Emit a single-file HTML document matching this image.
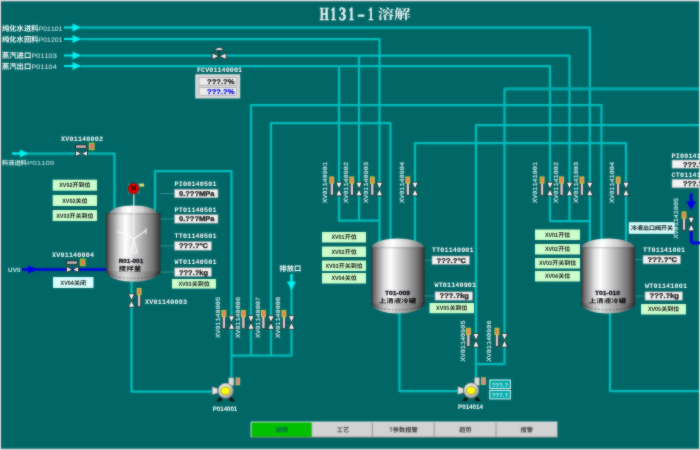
<!DOCTYPE html>
<html lang="zh"><head><meta charset="utf-8"><title>H131-1</title>
<style>
html,body{margin:0;padding:0;background:#DEDCDC;overflow:hidden}
body{width:700px;height:450px;font-family:"Liberation Sans",sans-serif}
svg{display:block}
text{white-space:pre;font-kerning:none;text-rendering:geometricPrecision}
</style></head><body>
<svg width="700" height="450" viewBox="0 0 700 450">
<defs>
<linearGradient id="tg" x1="0" x2="1" y1="0" y2="0"><stop offset="0" stop-color="#303030"/><stop offset="0.06" stop-color="#6c6c6c"/><stop offset="0.24" stop-color="#dadada"/><stop offset="0.36" stop-color="#ffffff"/><stop offset="0.52" stop-color="#d6d6d6"/><stop offset="0.7" stop-color="#a4a4a4"/><stop offset="0.86" stop-color="#767676"/><stop offset="0.95" stop-color="#4a4a4a"/><stop offset="1" stop-color="#2a2a2a"/></linearGradient>
<linearGradient id="td" x1="0" x2="1" y1="0" y2="0"><stop offset="0" stop-color="#7a7a7a"/><stop offset="0.28" stop-color="#eeeeee"/><stop offset="0.4" stop-color="#ffffff"/><stop offset="0.7" stop-color="#cccccc"/><stop offset="1" stop-color="#6c6c6c"/></linearGradient>
<radialGradient id="pg" cx="0.4" cy="0.35" r="0.7"><stop offset="0" stop-color="#fff"/><stop offset="0.6" stop-color="#cfcfcf"/><stop offset="1" stop-color="#8a8a8a"/></radialGradient>
<filter id="soft" x="0" y="0" width="700" height="450" filterUnits="userSpaceOnUse" color-interpolation-filters="sRGB"><feGaussianBlur stdDeviation="1" result="b"/><feComposite in="SourceGraphic" in2="b" operator="arithmetic" k1="0" k2="0.5" k3="0.5" k4="0"/></filter>
</defs>
<g filter="url(#soft)">
<rect x="-10" y="-10" width="720" height="470" fill="#DEDCDC"/>
<rect x="1" y="1.3" width="698" height="447.4" fill="#006666"/>
<polyline points="81,27.5 589.8,27.5 589.8,242" fill="none" stroke="#00BCBC" stroke-width="2.25" stroke-linejoin="round"/>
<polyline points="81,39 379.5,39 379.5,242" fill="none" stroke="#00BCBC" stroke-width="2.25" stroke-linejoin="round"/>
<polyline points="81,55.5 569.5,55.5 569.5,221" fill="none" stroke="#00BCBC" stroke-width="2.25" stroke-linejoin="round"/>
<polyline points="81,66 550,66 550,221 589.8,221" fill="none" stroke="#00BCBC" stroke-width="2.25" stroke-linejoin="round"/>
<polyline points="359,55.5 359,220.5" fill="none" stroke="#00BCBC" stroke-width="2.25" stroke-linejoin="round"/>
<polyline points="339,66 339,220.5 379.5,220.5" fill="none" stroke="#00BCBC" stroke-width="2.25" stroke-linejoin="round"/>
<polyline points="251,356 251,105 601.4,105 601.4,242" fill="none" stroke="#00BCBC" stroke-width="2.25" stroke-linejoin="round"/>
<polyline points="271,356 271,123 390.5,123 390.5,242" fill="none" stroke="#00BCBC" stroke-width="2.25" stroke-linejoin="round"/>
<polyline points="699,88.8 504.5,88.8" fill="none" stroke="#00A6A6" stroke-width="3.3" stroke-linejoin="round"/>
<polyline points="504.5,88.8 504.5,364 476,364" fill="none" stroke="#00BCBC" stroke-width="2.25" stroke-linejoin="round"/>
<polyline points="699,125 476,125 476,379" fill="none" stroke="#00BCBC" stroke-width="2.25" stroke-linejoin="round"/>
<polyline points="415,244 415,143 626,143 626,244" fill="none" stroke="#00BCBC" stroke-width="2.25" stroke-linejoin="round"/>
<polyline points="155,211 155,171 231.5,171 231.5,379" fill="none" stroke="#00BCBC" stroke-width="2.25" stroke-linejoin="round"/>
<polyline points="12,153.5 114.5,153.5 114.5,209" fill="none" stroke="#00BCBC" stroke-width="2.25" stroke-linejoin="round"/>
<polyline points="291.5,274 291.5,355.5 231.5,355.5" fill="none" stroke="#00BCBC" stroke-width="2.25" stroke-linejoin="round"/>
<polyline points="131.5,281 131.5,391.5 213,391.5" fill="none" stroke="#00BCBC" stroke-width="2.25" stroke-linejoin="round"/>
<polyline points="399.5,312 399.5,391 458,391" fill="none" stroke="#00BCBC" stroke-width="2.25" stroke-linejoin="round"/>
<polyline points="610,312 610,391 699,391" fill="none" stroke="#00BCBC" stroke-width="2.25" stroke-linejoin="round"/>
<path d="M64,26.4H72.5V23.5L81.5,27.5L72.5,31.5V28.6H64Z" fill="#00F0F0"/>
<path d="M64,37.9H72.5V35L81.5,39L72.5,43V40.1H64Z" fill="#00F0F0"/>
<path d="M64,54.4H72.5V51.5L81.5,55.5L72.5,59.5V56.6H64Z" fill="#00F0F0"/>
<path d="M64,64.9H72.5V62L81.5,66L72.5,70V67.1H64Z" fill="#00F0F0"/>
<path d="M12,152.4H20V149.5L28.5,153.5L20,157.5V154.6H12Z" fill="#00F0F0"/>
<path d="M290.4,274H292.6V281.5H296L291.5,290.5L287,281.5H290.4Z" fill="#00F0F0"/>
<polyline points="22,269.5 107,269.5" fill="none" stroke="#0000E6" stroke-width="2.6" stroke-linejoin="round"/>
<path d="M28,265.5L38.5,269.5L28,273.5Z" fill="#0000E6"/>
<polyline points="691.2,193.5 691.2,203" fill="none" stroke="#0000E6" stroke-width="2.8" stroke-linejoin="round"/>
<path d="M686.4,201.3H696L691.2,210.6Z" fill="#0000E6"/>
<path d="M691.2,231V240.4Q691.2,242.8 693.6,242.8H701" fill="none" stroke="#0000E6" stroke-width="2.8"/>
<path d="M106,270.3V271.3A27.25,10.5 0 0 0 160.5,271.3V270.3Z" fill="url(#tg)"/>
<path d="M106,270.3V271.3A27.25,10.5 0 0 0 160.5,271.3V270.3Z" fill="#000" opacity="0.12"/>
<rect x="106" y="213" width="54.5" height="58.30000000000001" fill="url(#tg)"/>
<path d="M109.5,213.5A23.75,8 0 0 1 157.0,213.5Z" fill="url(#td)"/>
<path d="M106,213.8H160.5" stroke="#000" stroke-opacity="0.22" stroke-width="1.1"/>
<path d="M107,270.8A26.25,7.5 0 0 0 159.5,270.8" fill="none" stroke="#000" stroke-opacity="0.33" stroke-width="1.1" stroke-dasharray="2 1.6"/>
<path d="M371,302.4V303.4A26.80000000000001,10 0 0 0 424.6,303.4V302.4Z" fill="url(#tg)"/>
<path d="M371,302.4V303.4A26.80000000000001,10 0 0 0 424.6,303.4V302.4Z" fill="#000" opacity="0.12"/>
<rect x="371" y="247" width="53.60000000000002" height="56.39999999999998" fill="url(#tg)"/>
<path d="M371.8,247.5A26.00000000000001,9 0 0 1 423.8,247.5Z" fill="url(#td)"/>
<path d="M371,247.8H424.6" stroke="#000" stroke-opacity="0.22" stroke-width="1.1"/>
<path d="M372,302.9A25.80000000000001,7 0 0 0 423.6,302.9" fill="none" stroke="#000" stroke-opacity="0.33" stroke-width="1.1" stroke-dasharray="2 1.6"/>
<path d="M581,302.4V303.4A27.0,10 0 0 0 635,303.4V302.4Z" fill="url(#tg)"/>
<path d="M581,302.4V303.4A27.0,10 0 0 0 635,303.4V302.4Z" fill="#000" opacity="0.12"/>
<rect x="581" y="247" width="54" height="56.39999999999998" fill="url(#tg)"/>
<path d="M581.8,247.5A26.2,9 0 0 1 634.2,247.5Z" fill="url(#td)"/>
<path d="M581,247.8H635" stroke="#000" stroke-opacity="0.22" stroke-width="1.1"/>
<path d="M582,302.9A26.0,7 0 0 0 634,302.9" fill="none" stroke="#000" stroke-opacity="0.33" stroke-width="1.1" stroke-dasharray="2 1.6"/>
<line x1="133.8" y1="192" x2="133.8" y2="252" stroke="#f0f0f0" stroke-width="1.2"/>
<path d="M117,232l8,1l8.5,6l9,-6l4,-3M133.8,239l-3,14h6.5z M146,228v6" fill="none" stroke="#fff" stroke-width="1.15" opacity="0.85"/>
<rect x="127.6" y="183.6" width="12" height="10" fill="#5a9a9a" opacity="0.55"/>
<circle cx="133.5" cy="188.6" r="5.3" fill="#E80000" stroke="#700" stroke-width="0.6"/>
<path d="M131.6,191v-5l1.9,3.2l1.9,-3.2v5" fill="none" stroke="#300" stroke-width="1.1"/>
<rect x="139.3" y="183.6" width="4.8" height="3" fill="#E4E070"/>
<text transform="translate(118.7 263.2) scale(0.1)" font-family="Liberation Sans" font-size="60" font-weight="bold" fill="#0a0a14" text-anchor="start" textLength="245" lengthAdjust="spacingAndGlyphs" stroke="#0a0a14" stroke-width="3" stroke-linejoin="round">R01-001</text>
<text transform="translate(118.7 270.8) scale(0.1)" font-family="'Liberation Sans','Noto Sans CJK SC',sans-serif" font-size="64" font-weight="bold" fill="#000" text-anchor="start" textLength="224.7" lengthAdjust="spacingAndGlyphs">搅拌釜</text>
<text transform="translate(397.5 295.2) scale(0.1)" font-family="Liberation Sans" font-size="60" font-weight="bold" fill="#0a0a14" text-anchor="middle" textLength="250" lengthAdjust="spacingAndGlyphs" stroke="#0a0a14" stroke-width="3" stroke-linejoin="round">T01-009</text>
<text transform="translate(378.8 302.66) scale(0.1)" font-family="'Liberation Sans','Noto Sans CJK SC',sans-serif" font-size="60" font-weight="bold" fill="#000" text-anchor="start" textLength="375" lengthAdjust="spacingAndGlyphs">上清液冷罐</text>
<text transform="translate(607.5 295.2) scale(0.1)" font-family="Liberation Sans" font-size="60" font-weight="bold" fill="#0a0a14" text-anchor="middle" textLength="250" lengthAdjust="spacingAndGlyphs" stroke="#0a0a14" stroke-width="3" stroke-linejoin="round">T01-010</text>
<text transform="translate(588.8 302.66) scale(0.1)" font-family="'Liberation Sans','Noto Sans CJK SC',sans-serif" font-size="60" font-weight="bold" fill="#000" text-anchor="start" textLength="375" lengthAdjust="spacingAndGlyphs">上清液冷罐</text>
<path d="M335.9,182.25H342.1L339,189Z M335.9,195.75H342.1L339,189Z" fill="#fff" stroke="#1c1c1c" stroke-width="0.8"/>
<line x1="333.8" y1="189" x2="339" y2="189" stroke="#333" stroke-width="0.6"/>
<rect x="330.2" y="182.75" width="3.2" height="12.5" fill="#DCD0D4" stroke="#2a2a2a" stroke-width="0.8"/>
<rect x="329.90000000000003" y="176.95" width="3.8" height="6.2" fill="#F28050" stroke="#C4D040" stroke-width="1.0"/>
<path d="M355.9,182.25H362.1L359,189Z M355.9,195.75H362.1L359,189Z" fill="#fff" stroke="#1c1c1c" stroke-width="0.8"/>
<line x1="353.8" y1="189" x2="359" y2="189" stroke="#333" stroke-width="0.6"/>
<rect x="350.2" y="182.75" width="3.2" height="12.5" fill="#DCD0D4" stroke="#2a2a2a" stroke-width="0.8"/>
<rect x="349.90000000000003" y="176.95" width="3.8" height="6.2" fill="#F28050" stroke="#C4D040" stroke-width="1.0"/>
<path d="M376.4,182.25H382.6L379.5,189Z M376.4,195.75H382.6L379.5,189Z" fill="#fff" stroke="#1c1c1c" stroke-width="0.8"/>
<line x1="374.3" y1="189" x2="379.5" y2="189" stroke="#333" stroke-width="0.6"/>
<rect x="370.7" y="182.75" width="3.2" height="12.5" fill="#DCD0D4" stroke="#2a2a2a" stroke-width="0.8"/>
<rect x="370.40000000000003" y="176.95" width="3.8" height="6.2" fill="#F28050" stroke="#C4D040" stroke-width="1.0"/>
<path d="M411.9,182.25H418.1L415,189Z M411.9,195.75H418.1L415,189Z" fill="#fff" stroke="#1c1c1c" stroke-width="0.8"/>
<line x1="409.8" y1="189" x2="415" y2="189" stroke="#333" stroke-width="0.6"/>
<rect x="406.2" y="182.75" width="3.2" height="12.5" fill="#DCD0D4" stroke="#2a2a2a" stroke-width="0.8"/>
<rect x="405.90000000000003" y="176.95" width="3.8" height="6.2" fill="#F28050" stroke="#C4D040" stroke-width="1.0"/>
<path d="M546.9,182.25H553.1L550,189Z M546.9,195.75H553.1L550,189Z" fill="#fff" stroke="#1c1c1c" stroke-width="0.8"/>
<line x1="544.1" y1="189" x2="550" y2="189" stroke="#333" stroke-width="0.6"/>
<rect x="540.5" y="182.75" width="3.2" height="12.5" fill="#DCD0D4" stroke="#2a2a2a" stroke-width="0.8"/>
<rect x="540.2" y="176.95" width="3.8" height="6.2" fill="#F28050" stroke="#C4D040" stroke-width="1.0"/>
<path d="M566.4,182.25H572.6L569.5,189Z M566.4,195.75H572.6L569.5,189Z" fill="#fff" stroke="#1c1c1c" stroke-width="0.8"/>
<line x1="563.6" y1="189" x2="569.5" y2="189" stroke="#333" stroke-width="0.6"/>
<rect x="560.0" y="182.75" width="3.2" height="12.5" fill="#DCD0D4" stroke="#2a2a2a" stroke-width="0.8"/>
<rect x="559.7" y="176.95" width="3.8" height="6.2" fill="#F28050" stroke="#C4D040" stroke-width="1.0"/>
<path d="M586.6999999999999,182.25H592.9L589.8,189Z M586.6999999999999,195.75H592.9L589.8,189Z" fill="#fff" stroke="#1c1c1c" stroke-width="0.8"/>
<line x1="583.9" y1="189" x2="589.8" y2="189" stroke="#333" stroke-width="0.6"/>
<rect x="580.3" y="182.75" width="3.2" height="12.5" fill="#DCD0D4" stroke="#2a2a2a" stroke-width="0.8"/>
<rect x="580.0" y="176.95" width="3.8" height="6.2" fill="#F28050" stroke="#C4D040" stroke-width="1.0"/>
<path d="M622.9,182.25H629.1L626,189Z M622.9,195.75H629.1L626,189Z" fill="#fff" stroke="#1c1c1c" stroke-width="0.8"/>
<line x1="620.1" y1="189" x2="626" y2="189" stroke="#333" stroke-width="0.6"/>
<rect x="616.5" y="182.75" width="3.2" height="12.5" fill="#DCD0D4" stroke="#2a2a2a" stroke-width="0.8"/>
<rect x="616.2" y="176.95" width="3.8" height="6.2" fill="#F28050" stroke="#C4D040" stroke-width="1.0"/>
<path d="M228.4,315.75H234.6L231.5,322.5Z M228.4,329.25H234.6L231.5,322.5Z" fill="#fff" stroke="#1c1c1c" stroke-width="0.8"/>
<line x1="225.9" y1="322.5" x2="231.5" y2="322.5" stroke="#333" stroke-width="0.6"/>
<rect x="222.3" y="316.25" width="3.2" height="12.5" fill="#DCD0D4" stroke="#2a2a2a" stroke-width="0.8"/>
<rect x="222.0" y="310.45" width="3.8" height="6.2" fill="#F28050" stroke="#C4D040" stroke-width="1.0"/>
<path d="M247.9,315.75H254.1L251,322.5Z M247.9,329.25H254.1L251,322.5Z" fill="#fff" stroke="#1c1c1c" stroke-width="0.8"/>
<line x1="245.4" y1="322.5" x2="251" y2="322.5" stroke="#333" stroke-width="0.6"/>
<rect x="241.8" y="316.25" width="3.2" height="12.5" fill="#DCD0D4" stroke="#2a2a2a" stroke-width="0.8"/>
<rect x="241.5" y="310.45" width="3.8" height="6.2" fill="#F28050" stroke="#C4D040" stroke-width="1.0"/>
<path d="M267.9,315.75H274.1L271,322.5Z M267.9,329.25H274.1L271,322.5Z" fill="#fff" stroke="#1c1c1c" stroke-width="0.8"/>
<line x1="265.4" y1="322.5" x2="271" y2="322.5" stroke="#333" stroke-width="0.6"/>
<rect x="261.79999999999995" y="316.25" width="3.2" height="12.5" fill="#DCD0D4" stroke="#2a2a2a" stroke-width="0.8"/>
<rect x="261.5" y="310.45" width="3.8" height="6.2" fill="#F28050" stroke="#C4D040" stroke-width="1.0"/>
<path d="M288.4,315.75H294.6L291.5,322.5Z M288.4,329.25H294.6L291.5,322.5Z" fill="#fff" stroke="#1c1c1c" stroke-width="0.8"/>
<line x1="285.9" y1="322.5" x2="291.5" y2="322.5" stroke="#333" stroke-width="0.6"/>
<rect x="282.29999999999995" y="316.25" width="3.2" height="12.5" fill="#DCD0D4" stroke="#2a2a2a" stroke-width="0.8"/>
<rect x="282.0" y="310.45" width="3.8" height="6.2" fill="#F28050" stroke="#C4D040" stroke-width="1.0"/>
<path d="M472.9,333.55H479.1L476,340.3Z M472.9,347.05H479.1L476,340.3Z" fill="#fff" stroke="#1c1c1c" stroke-width="0.8"/>
<line x1="470.4" y1="340.3" x2="476" y2="340.3" stroke="#333" stroke-width="0.6"/>
<rect x="466.79999999999995" y="334.05" width="3.2" height="12.5" fill="#DCD0D4" stroke="#2a2a2a" stroke-width="0.8"/>
<rect x="466.5" y="328.25" width="3.8" height="6.2" fill="#F28050" stroke="#C4D040" stroke-width="1.0"/>
<path d="M501.4,333.55H507.6L504.5,340.3Z M501.4,347.05H507.6L504.5,340.3Z" fill="#fff" stroke="#1c1c1c" stroke-width="0.8"/>
<line x1="498.9" y1="340.3" x2="504.5" y2="340.3" stroke="#333" stroke-width="0.6"/>
<rect x="495.29999999999995" y="334.05" width="3.2" height="12.5" fill="#DCD0D4" stroke="#2a2a2a" stroke-width="0.8"/>
<rect x="495.0" y="328.25" width="3.8" height="6.2" fill="#F28050" stroke="#C4D040" stroke-width="1.0"/>
<path d="M128.4,293.75H134.6L131.5,300.5Z M128.4,307.25H134.6L131.5,300.5Z" fill="#fff" stroke="#1c1c1c" stroke-width="0.8"/>
<line x1="131.5" y1="300.5" x2="137.1" y2="300.5" stroke="#333" stroke-width="0.6"/>
<rect x="137.5" y="294.25" width="3.2" height="12.5" fill="#DCD0D4" stroke="#2a2a2a" stroke-width="0.8"/>
<rect x="137.2" y="288.45" width="3.8" height="6.2" fill="#F28050" stroke="#C4D040" stroke-width="1.0"/>
<path d="M688.1,217.25H694.3000000000001L691.2,224Z M688.1,230.75H694.3000000000001L691.2,224Z" fill="#fff" stroke="#1c1c1c" stroke-width="0.8"/>
<line x1="686.0" y1="224" x2="691.2" y2="224" stroke="#333" stroke-width="0.6"/>
<rect x="682.4" y="217.75" width="3.2" height="12.5" fill="#DCD0D4" stroke="#2a2a2a" stroke-width="0.8"/>
<rect x="682.1" y="211.95" width="3.8" height="6.2" fill="#F28050" stroke="#C4D040" stroke-width="1.0"/>
<path d="M75.5,150.5V156.5L81.5,153.5Z M87.5,150.5V156.5L81.5,153.5Z" fill="#f4f4f4" stroke="#222" stroke-width="0.9"/>
<rect x="75.5" y="144.9" width="11" height="3.4" fill="#C8B8BE" stroke="#222" stroke-width="0.9"/>
<rect x="89.5" y="143.3" width="4.4" height="6.2" fill="#F06868" stroke="#A8C828" stroke-width="1.3"/>
<path d="M66.5,266.5V272.5L72.5,269.5Z M78.5,266.5V272.5L72.5,269.5Z" fill="#f4f4f4" stroke="#222" stroke-width="0.9"/>
<rect x="66.5" y="260.9" width="11" height="3.4" fill="#C8B8BE" stroke="#222" stroke-width="0.9"/>
<rect x="80.5" y="259.3" width="4.4" height="6.2" fill="#F06868" stroke="#A8C828" stroke-width="1.3"/>
<path d="M212.2,52.95V59.45L219.2,56.2Z M226.2,52.95V59.45L219.2,56.2Z" fill="#f4f4f4" stroke="#222" stroke-width="0.9"/>
<line x1="219.2" y1="49.5" x2="219.2" y2="56" stroke="#222" stroke-width="1.4"/>
<path d="M214.3,50.3Q219.2,44.5 224.1,50.3Z" fill="#f4f4f4" stroke="#222" stroke-width="0.7"/>
<path d="M219.7,397.3l-3.5,4h5l1.5,-3zM231.7,397.3l3.5,4h-5l-1.5,-3z" fill="#1a1410"/>
<path d="M212.2,386.8l5.5,1.8v4.4l-5.5,1.8z" fill="#e4e4e4" stroke="#777" stroke-width="0.5"/>
<rect x="228.7" y="377.8" width="5.2" height="8" fill="#dcdcdc" stroke="#777" stroke-width="0.5"/>
<circle cx="225.7" cy="390.8" r="7.7" fill="url(#pg)" stroke="#666" stroke-width="0.6"/>
<ellipse cx="225.39999999999998" cy="390.8" rx="4.7" ry="4" fill="#FFFF00" stroke="#8c8c30" stroke-width="0.8"/>
<rect x="236.1" y="378.0" width="3.6" height="6.8" fill="#F08080" stroke="#A8D060" stroke-width="0.9"/>
<path d="M465.3,397.0l-3.5,4h5l1.5,-3zM477.3,397.0l3.5,4h-5l-1.5,-3z" fill="#1a1410"/>
<path d="M457.8,386.5l5.5,1.8v4.4l-5.5,1.8z" fill="#e4e4e4" stroke="#777" stroke-width="0.5"/>
<rect x="474.3" y="377.5" width="5.2" height="8" fill="#dcdcdc" stroke="#777" stroke-width="0.5"/>
<circle cx="471.3" cy="390.5" r="7.7" fill="url(#pg)" stroke="#666" stroke-width="0.6"/>
<ellipse cx="471.0" cy="390.5" rx="4.7" ry="4" fill="#FFFF00" stroke="#8c8c30" stroke-width="0.8"/>
<rect x="481.7" y="377.7" width="3.6" height="6.8" fill="#F08080" stroke="#A8D060" stroke-width="0.9"/>
<text transform="translate(225 411.3) scale(0.1)" font-family="Liberation Sans" font-size="64" font-weight="bold" fill="#FFFFFE" text-anchor="middle" textLength="245" lengthAdjust="spacingAndGlyphs">P014001</text>
<text transform="translate(470.5 409.3) scale(0.1)" font-family="Liberation Sans" font-size="64" font-weight="bold" fill="#FFFFFE" text-anchor="middle" textLength="250" lengthAdjust="spacingAndGlyphs">P014014</text>
<rect x="489.8" y="380" width="20.6" height="8.5" fill="#00A8A8" stroke="#C8F4F4" stroke-width="1.1"/>
<text transform="translate(500 386.6) scale(0.1)" font-family="Liberation Sans" font-size="56" font-weight="bold" fill="#D4FAFA" text-anchor="middle" textLength="160" lengthAdjust="spacingAndGlyphs">???.?</text>
<rect x="489.8" y="390.4" width="20.6" height="8.5" fill="#00A8A8" stroke="#C8F4F4" stroke-width="1.1"/>
<text transform="translate(500 397.0) scale(0.1)" font-family="Liberation Sans" font-size="56" font-weight="bold" fill="#D4FAFA" text-anchor="middle" textLength="160" lengthAdjust="spacingAndGlyphs">???.?</text>
<text transform="translate(327.3 203) rotate(-90) scale(0.1)" font-family="Liberation Mono" font-size="63" font-weight="normal" fill="#E4F6F6" text-anchor="start" textLength="410" lengthAdjust="spacingAndGlyphs" stroke="#E4F6F6" stroke-width="1.2" stroke-linejoin="round">XV01140901</text>
<text transform="translate(348 203) rotate(-90) scale(0.1)" font-family="Liberation Mono" font-size="63" font-weight="normal" fill="#E4F6F6" text-anchor="start" textLength="410" lengthAdjust="spacingAndGlyphs" stroke="#E4F6F6" stroke-width="1.2" stroke-linejoin="round">XV01140902</text>
<text transform="translate(367.5 203) rotate(-90) scale(0.1)" font-family="Liberation Mono" font-size="63" font-weight="normal" fill="#E4F6F6" text-anchor="start" textLength="410" lengthAdjust="spacingAndGlyphs" stroke="#E4F6F6" stroke-width="1.2" stroke-linejoin="round">XV01140903</text>
<text transform="translate(404 203) rotate(-90) scale(0.1)" font-family="Liberation Mono" font-size="63" font-weight="normal" fill="#E4F6F6" text-anchor="start" textLength="410" lengthAdjust="spacingAndGlyphs" stroke="#E4F6F6" stroke-width="1.2" stroke-linejoin="round">XV01140904</text>
<text transform="translate(537.4 203) rotate(-90) scale(0.1)" font-family="Liberation Mono" font-size="63" font-weight="normal" fill="#E4F6F6" text-anchor="start" textLength="410" lengthAdjust="spacingAndGlyphs" stroke="#E4F6F6" stroke-width="1.2" stroke-linejoin="round">XV01141001</text>
<text transform="translate(557.5 203) rotate(-90) scale(0.1)" font-family="Liberation Mono" font-size="63" font-weight="normal" fill="#E4F6F6" text-anchor="start" textLength="410" lengthAdjust="spacingAndGlyphs" stroke="#E4F6F6" stroke-width="1.2" stroke-linejoin="round">XV01141002</text>
<text transform="translate(577.5 203) rotate(-90) scale(0.1)" font-family="Liberation Mono" font-size="63" font-weight="normal" fill="#E4F6F6" text-anchor="start" textLength="410" lengthAdjust="spacingAndGlyphs" stroke="#E4F6F6" stroke-width="1.2" stroke-linejoin="round">XV01141003</text>
<text transform="translate(614 203) rotate(-90) scale(0.1)" font-family="Liberation Mono" font-size="63" font-weight="normal" fill="#E4F6F6" text-anchor="start" textLength="410" lengthAdjust="spacingAndGlyphs" stroke="#E4F6F6" stroke-width="1.2" stroke-linejoin="round">XV01141004</text>
<text transform="translate(220.3 338) rotate(-90) scale(0.1)" font-family="Liberation Mono" font-size="63" font-weight="normal" fill="#E4F6F6" text-anchor="start" textLength="410" lengthAdjust="spacingAndGlyphs" stroke="#E4F6F6" stroke-width="1.2" stroke-linejoin="round">XV01140005</text>
<text transform="translate(240 338) rotate(-90) scale(0.1)" font-family="Liberation Mono" font-size="63" font-weight="normal" fill="#E4F6F6" text-anchor="start" textLength="410" lengthAdjust="spacingAndGlyphs" stroke="#E4F6F6" stroke-width="1.2" stroke-linejoin="round">XV01140006</text>
<text transform="translate(260 338) rotate(-90) scale(0.1)" font-family="Liberation Mono" font-size="63" font-weight="normal" fill="#E4F6F6" text-anchor="start" textLength="410" lengthAdjust="spacingAndGlyphs" stroke="#E4F6F6" stroke-width="1.2" stroke-linejoin="round">XV01140007</text>
<text transform="translate(280.3 338) rotate(-90) scale(0.1)" font-family="Liberation Mono" font-size="63" font-weight="normal" fill="#E4F6F6" text-anchor="start" textLength="410" lengthAdjust="spacingAndGlyphs" stroke="#E4F6F6" stroke-width="1.2" stroke-linejoin="round">XV01140008</text>
<text transform="translate(464.8 361.5) rotate(-90) scale(0.1)" font-family="Liberation Mono" font-size="63" font-weight="normal" fill="#E4F6F6" text-anchor="start" textLength="410" lengthAdjust="spacingAndGlyphs" stroke="#E4F6F6" stroke-width="1.2" stroke-linejoin="round">XV01140905</text>
<text transform="translate(491 361.5) rotate(-90) scale(0.1)" font-family="Liberation Mono" font-size="63" font-weight="normal" fill="#E4F6F6" text-anchor="start" textLength="410" lengthAdjust="spacingAndGlyphs" stroke="#E4F6F6" stroke-width="1.2" stroke-linejoin="round">XV01140906</text>
<text transform="translate(678.2 238.5) rotate(-90) scale(0.1)" font-family="Liberation Mono" font-size="63" font-weight="normal" fill="#E4F6F6" text-anchor="start" textLength="405" lengthAdjust="spacingAndGlyphs" stroke="#E4F6F6" stroke-width="1.2" stroke-linejoin="round">XV01141005</text>
<text transform="translate(2 30.58) scale(0.1)" font-family="'Liberation Sans','Noto Sans CJK SC',sans-serif" font-size="73" font-weight="bold" fill="#F4FCFC" text-anchor="start" textLength="365" lengthAdjust="spacingAndGlyphs">纯化水进料</text>
<text transform="translate(38.7 30.578) scale(0.1)" font-family="Liberation Sans" font-size="64" font-weight="normal" fill="#DCF0F0" text-anchor="start" textLength="236" lengthAdjust="spacingAndGlyphs">P01101</text>
<text transform="translate(2 42.08) scale(0.1)" font-family="'Liberation Sans','Noto Sans CJK SC',sans-serif" font-size="73" font-weight="bold" fill="#F4FCFC" text-anchor="start" textLength="365" lengthAdjust="spacingAndGlyphs">纯化水回料</text>
<text transform="translate(38.7 42.077999999999996) scale(0.1)" font-family="Liberation Sans" font-size="64" font-weight="normal" fill="#DCF0F0" text-anchor="start" textLength="236" lengthAdjust="spacingAndGlyphs">P01201</text>
<text transform="translate(2 58.38) scale(0.1)" font-family="'Liberation Sans','Noto Sans CJK SC',sans-serif" font-size="73" font-weight="bold" fill="#F4FCFC" text-anchor="start" textLength="292" lengthAdjust="spacingAndGlyphs">蒸汽进口</text>
<text transform="translate(31.4 58.378) scale(0.1)" font-family="Liberation Sans" font-size="64" font-weight="normal" fill="#DCF0F0" text-anchor="start" textLength="254" lengthAdjust="spacingAndGlyphs">P01103</text>
<text transform="translate(2 69.08) scale(0.1)" font-family="'Liberation Sans','Noto Sans CJK SC',sans-serif" font-size="73" font-weight="bold" fill="#F4FCFC" text-anchor="start" textLength="292" lengthAdjust="spacingAndGlyphs">蒸汽出口</text>
<text transform="translate(31.4 69.078) scale(0.1)" font-family="Liberation Sans" font-size="64" font-weight="normal" fill="#DCF0F0" text-anchor="start" textLength="254" lengthAdjust="spacingAndGlyphs">P01104</text>
<text transform="translate(2 164.83) scale(0.1)" font-family="'Liberation Sans','Noto Sans CJK SC',sans-serif" font-size="62" font-weight="bold" fill="#D8EEEE" text-anchor="start" textLength="248" lengthAdjust="spacingAndGlyphs">料液进料</text>
<text transform="translate(27.0 164.832) scale(0.1)" font-family="Liberation Sans" font-size="60" font-weight="normal" fill="#CCE8E8" text-anchor="start" textLength="272" lengthAdjust="spacingAndGlyphs">P01109</text>
<text transform="translate(8 272.2) scale(0.1)" font-family="Liberation Sans" font-size="62" font-weight="bold" fill="#D2EAEA" text-anchor="start" textLength="125" lengthAdjust="spacingAndGlyphs">UV0</text>
<text transform="translate(279.5 270.69) scale(0.1)" font-family="'Liberation Sans','Noto Sans CJK SC',sans-serif" font-size="72" font-weight="bold" fill="#fff" text-anchor="start" textLength="216" lengthAdjust="spacingAndGlyphs">排放口</text>
<text transform="translate(61 141.3) scale(0.1)" font-family="Liberation Mono" font-size="67" font-weight="bold" fill="#FFFFFE" text-anchor="start" textLength="420" lengthAdjust="spacing">XV01140002</text>
<text transform="translate(52 256.8) scale(0.1)" font-family="Liberation Mono" font-size="67" font-weight="bold" fill="#FFFFFE" text-anchor="start" textLength="420" lengthAdjust="spacing">XV01140004</text>
<text transform="translate(145 303.6) scale(0.1)" font-family="Liberation Mono" font-size="67" font-weight="bold" fill="#FFFFFE" text-anchor="start" textLength="420" lengthAdjust="spacing">XV01140003</text>
<text transform="translate(197 72.3) scale(0.1)" font-family="Liberation Mono" font-size="67" font-weight="bold" fill="#FFFFFE" text-anchor="start" textLength="450" lengthAdjust="spacing">FCV01140001</text>
<text transform="translate(174.5 186) scale(0.1)" font-family="Liberation Mono" font-size="67" font-weight="bold" fill="#FFFFFE" text-anchor="start" textLength="420" lengthAdjust="spacing">PI00140501</text>
<rect x="174.5" y="189.2" width="43.5" height="8.6" fill="#f2f2f2" stroke="#8a9a9a" stroke-width="0.6"/>
<text transform="translate(196.75 195.99999999999997) scale(0.1)" font-family="Liberation Sans" font-size="70" font-weight="bold" fill="#111" text-anchor="middle" textLength="355" lengthAdjust="spacingAndGlyphs" stroke="#111" stroke-width="3" stroke-linejoin="round">0.???MPa</text>
<line x1="160.5" y1="193.5" x2="174.5" y2="193.5" stroke="#4FA0A0" stroke-width="0.7"/>
<text transform="translate(174.5 211.5) scale(0.1)" font-family="Liberation Mono" font-size="67" font-weight="bold" fill="#FFFFFE" text-anchor="start" textLength="420" lengthAdjust="spacing">PT01140501</text>
<rect x="174.5" y="214.6" width="43.5" height="8.6" fill="#f2f2f2" stroke="#8a9a9a" stroke-width="0.6"/>
<text transform="translate(196.75 221.39999999999998) scale(0.1)" font-family="Liberation Sans" font-size="70" font-weight="bold" fill="#111" text-anchor="middle" textLength="355" lengthAdjust="spacingAndGlyphs" stroke="#111" stroke-width="3" stroke-linejoin="round">0.???MPa</text>
<line x1="160.5" y1="218.9" x2="174.5" y2="218.9" stroke="#4FA0A0" stroke-width="0.7"/>
<text transform="translate(174.5 237.7) scale(0.1)" font-family="Liberation Mono" font-size="67" font-weight="bold" fill="#FFFFFE" text-anchor="start" textLength="420" lengthAdjust="spacing">TT01140501</text>
<rect x="174.5" y="241.6" width="37" height="8.6" fill="#f2f2f2" stroke="#8a9a9a" stroke-width="0.6"/>
<text transform="translate(193.5 248.39999999999998) scale(0.1)" font-family="Liberation Sans" font-size="70" font-weight="bold" fill="#111" text-anchor="middle" textLength="290" lengthAdjust="spacingAndGlyphs" stroke="#111" stroke-width="3" stroke-linejoin="round">???.?°C</text>
<line x1="160.5" y1="245.9" x2="174.5" y2="245.9" stroke="#4FA0A0" stroke-width="0.7"/>
<text transform="translate(174.5 263.7) scale(0.1)" font-family="Liberation Mono" font-size="67" font-weight="bold" fill="#FFFFFE" text-anchor="start" textLength="420" lengthAdjust="spacing">WT01140501</text>
<rect x="174.5" y="267.8" width="37" height="8.6" fill="#f2f2f2" stroke="#8a9a9a" stroke-width="0.6"/>
<text transform="translate(193.5 274.6) scale(0.1)" font-family="Liberation Sans" font-size="70" font-weight="bold" fill="#111" text-anchor="middle" textLength="290" lengthAdjust="spacingAndGlyphs" stroke="#111" stroke-width="3" stroke-linejoin="round">???.?kg</text>
<line x1="160.5" y1="272.1" x2="174.5" y2="272.1" stroke="#4FA0A0" stroke-width="0.7"/>
<rect x="172" y="279" width="44" height="9.6" fill="#CCFFCC"/>
<text transform="translate(178.39999999999998 285.76000000000005) scale(0.1)" font-family="Liberation Sans" font-size="63" font-weight="bold" fill="#111" text-anchor="start" textLength="132" lengthAdjust="spacingAndGlyphs">XV03</text>
<text transform="translate(191.8 285.76) scale(0.1)" font-family="'Liberation Sans','Noto Sans CJK SC',sans-serif" font-size="60" font-weight="bold" fill="#111" text-anchor="start" textLength="180" lengthAdjust="spacingAndGlyphs">关到位</text>
<rect x="195.8" y="74.8" width="44" height="23.2" fill="#D6D6D6" stroke="#f0f0f0" stroke-width="0.8"/>
<rect x="199" y="77.6" width="37.5" height="7.6" fill="#ECECEC" stroke="#9a9a9a" stroke-width="0.6"/>
<text transform="translate(234.5 83.89999999999999) scale(0.1)" font-family="Liberation Sans" font-size="69" font-weight="bold" fill="#222" text-anchor="end" textLength="275" lengthAdjust="spacingAndGlyphs" stroke="#222" stroke-width="3" stroke-linejoin="round">???.?%</text>
<rect x="199" y="87.6" width="37.5" height="7.6" fill="#ECECEC" stroke="#9a9a9a" stroke-width="0.6"/>
<text transform="translate(234.5 93.89999999999999) scale(0.1)" font-family="Liberation Sans" font-size="69" font-weight="bold" fill="#1010E0" text-anchor="end" textLength="275" lengthAdjust="spacingAndGlyphs" stroke="#1010E0" stroke-width="3" stroke-linejoin="round">???.?%</text>
<rect x="52.7" y="179.7" width="44.3" height="11" fill="#CCFFCC"/>
<text transform="translate(59.2 187.26) scale(0.1)" font-family="Liberation Sans" font-size="63" font-weight="bold" fill="#111" text-anchor="start" textLength="132" lengthAdjust="spacingAndGlyphs">XV02</text>
<text transform="translate(72.6 187.26) scale(0.1)" font-family="'Liberation Sans','Noto Sans CJK SC',sans-serif" font-size="60" font-weight="bold" fill="#111" text-anchor="start" textLength="180" lengthAdjust="spacingAndGlyphs">开到位</text>
<rect x="52.7" y="195" width="44.3" height="11" fill="#CCFFCC"/>
<text transform="translate(62.2 202.56) scale(0.1)" font-family="Liberation Sans" font-size="63" font-weight="bold" fill="#111" text-anchor="start" textLength="132" lengthAdjust="spacingAndGlyphs">XV02</text>
<text transform="translate(75.6 202.56) scale(0.1)" font-family="'Liberation Sans','Noto Sans CJK SC',sans-serif" font-size="60" font-weight="bold" fill="#111" text-anchor="start" textLength="120" lengthAdjust="spacingAndGlyphs">关位</text>
<rect x="52.7" y="210" width="44.3" height="11" fill="#CCFFCC"/>
<text transform="translate(56.2 217.56) scale(0.1)" font-family="Liberation Sans" font-size="63" font-weight="bold" fill="#111" text-anchor="start" textLength="132" lengthAdjust="spacingAndGlyphs">XV03</text>
<text transform="translate(69.6 217.56) scale(0.1)" font-family="'Liberation Sans','Noto Sans CJK SC',sans-serif" font-size="60" font-weight="bold" fill="#111" text-anchor="start" textLength="240" lengthAdjust="spacingAndGlyphs">开关到位</text>
<rect x="53" y="277" width="40.5" height="11" fill="#D8FFFF"/>
<text transform="translate(60.60000000000001 284.56) scale(0.1)" font-family="Liberation Sans" font-size="63" font-weight="bold" fill="#111" text-anchor="start" textLength="132" lengthAdjust="spacingAndGlyphs">XV04</text>
<text transform="translate(74 284.56) scale(0.1)" font-family="'Liberation Sans','Noto Sans CJK SC',sans-serif" font-size="60" font-weight="bold" fill="#111" text-anchor="start" textLength="120" lengthAdjust="spacingAndGlyphs">关闭</text>
<rect x="322" y="232" width="44" height="10.5" fill="#CCFFCC"/>
<text transform="translate(331.4 239.35999999999999) scale(0.1)" font-family="Liberation Sans" font-size="63" font-weight="bold" fill="#111" text-anchor="start" textLength="132" lengthAdjust="spacingAndGlyphs">XV01</text>
<text transform="translate(344.8 239.36) scale(0.1)" font-family="'Liberation Sans','Noto Sans CJK SC',sans-serif" font-size="60" font-weight="bold" fill="#111" text-anchor="start" textLength="120" lengthAdjust="spacingAndGlyphs">开位</text>
<rect x="322" y="246.5" width="44" height="10.5" fill="#CCFFCC"/>
<text transform="translate(331.4 253.85999999999999) scale(0.1)" font-family="Liberation Sans" font-size="63" font-weight="bold" fill="#111" text-anchor="start" textLength="132" lengthAdjust="spacingAndGlyphs">XV02</text>
<text transform="translate(344.8 253.86) scale(0.1)" font-family="'Liberation Sans','Noto Sans CJK SC',sans-serif" font-size="60" font-weight="bold" fill="#111" text-anchor="start" textLength="120" lengthAdjust="spacingAndGlyphs">开位</text>
<rect x="322" y="260.5" width="44" height="10.5" fill="#CCFFCC"/>
<text transform="translate(325.4 267.86) scale(0.1)" font-family="Liberation Sans" font-size="63" font-weight="bold" fill="#111" text-anchor="start" textLength="132" lengthAdjust="spacingAndGlyphs">XV03</text>
<text transform="translate(338.8 267.86) scale(0.1)" font-family="'Liberation Sans','Noto Sans CJK SC',sans-serif" font-size="60" font-weight="bold" fill="#111" text-anchor="start" textLength="240" lengthAdjust="spacingAndGlyphs">开关到位</text>
<rect x="322" y="273" width="44" height="10.5" fill="#CCFFCC"/>
<text transform="translate(331.4 280.36) scale(0.1)" font-family="Liberation Sans" font-size="63" font-weight="bold" fill="#111" text-anchor="start" textLength="132" lengthAdjust="spacingAndGlyphs">XV04</text>
<text transform="translate(344.8 280.36) scale(0.1)" font-family="'Liberation Sans','Noto Sans CJK SC',sans-serif" font-size="60" font-weight="bold" fill="#111" text-anchor="start" textLength="120" lengthAdjust="spacingAndGlyphs">关位</text>
<text transform="translate(432 252.3) scale(0.1)" font-family="Liberation Mono" font-size="67" font-weight="bold" fill="#FFFFFE" text-anchor="start" textLength="415" lengthAdjust="spacing">TT01140901</text>
<rect x="432" y="256" width="37.5" height="8.4" fill="#f2f2f2" stroke="#8a9a9a" stroke-width="0.6"/>
<text transform="translate(451.25 262.59999999999997) scale(0.1)" font-family="Liberation Sans" font-size="70" font-weight="bold" fill="#111" text-anchor="middle" textLength="295" lengthAdjust="spacingAndGlyphs" stroke="#111" stroke-width="3" stroke-linejoin="round">???.?°C</text>
<text transform="translate(434.5 287.3) scale(0.1)" font-family="Liberation Mono" font-size="67" font-weight="bold" fill="#FFFFFE" text-anchor="start" textLength="415" lengthAdjust="spacing">WT01140901</text>
<rect x="435" y="291.8" width="37.5" height="8.4" fill="#f2f2f2" stroke="#8a9a9a" stroke-width="0.6"/>
<text transform="translate(454.25 298.4) scale(0.1)" font-family="Liberation Sans" font-size="70" font-weight="bold" fill="#111" text-anchor="middle" textLength="295" lengthAdjust="spacingAndGlyphs" stroke="#111" stroke-width="3" stroke-linejoin="round">???.?kg</text>
<line x1="424.5" y1="260.2" x2="432" y2="260.2" stroke="#4FA0A0" stroke-width="0.7"/>
<line x1="424.5" y1="296" x2="435" y2="296" stroke="#4FA0A0" stroke-width="0.7"/>
<rect x="429.5" y="303" width="44.5" height="10.2" fill="#CCFFCC"/>
<text transform="translate(436.09999999999997 310.16) scale(0.1)" font-family="Liberation Sans" font-size="63" font-weight="bold" fill="#111" text-anchor="start" textLength="132" lengthAdjust="spacingAndGlyphs">XV05</text>
<text transform="translate(449.5 310.16) scale(0.1)" font-family="'Liberation Sans','Noto Sans CJK SC',sans-serif" font-size="60" font-weight="bold" fill="#111" text-anchor="start" textLength="180" lengthAdjust="spacingAndGlyphs">关到位</text>
<rect x="535" y="229.5" width="45" height="10.5" fill="#CCFFCC"/>
<text transform="translate(544.9000000000001 236.85999999999999) scale(0.1)" font-family="Liberation Sans" font-size="63" font-weight="bold" fill="#111" text-anchor="start" textLength="132" lengthAdjust="spacingAndGlyphs">XV01</text>
<text transform="translate(558.3 236.86) scale(0.1)" font-family="'Liberation Sans','Noto Sans CJK SC',sans-serif" font-size="60" font-weight="bold" fill="#111" text-anchor="start" textLength="120" lengthAdjust="spacingAndGlyphs">开位</text>
<rect x="535" y="244" width="45" height="10.5" fill="#CCFFCC"/>
<text transform="translate(544.9000000000001 251.35999999999999) scale(0.1)" font-family="Liberation Sans" font-size="63" font-weight="bold" fill="#111" text-anchor="start" textLength="132" lengthAdjust="spacingAndGlyphs">XV02</text>
<text transform="translate(558.3 251.36) scale(0.1)" font-family="'Liberation Sans','Noto Sans CJK SC',sans-serif" font-size="60" font-weight="bold" fill="#111" text-anchor="start" textLength="120" lengthAdjust="spacingAndGlyphs">开位</text>
<rect x="535" y="258" width="45" height="10.5" fill="#CCFFCC"/>
<text transform="translate(538.9000000000001 265.36) scale(0.1)" font-family="Liberation Sans" font-size="63" font-weight="bold" fill="#111" text-anchor="start" textLength="132" lengthAdjust="spacingAndGlyphs">XV03</text>
<text transform="translate(552.3 265.36) scale(0.1)" font-family="'Liberation Sans','Noto Sans CJK SC',sans-serif" font-size="60" font-weight="bold" fill="#111" text-anchor="start" textLength="240" lengthAdjust="spacingAndGlyphs">开关到位</text>
<rect x="535" y="271" width="45" height="10.5" fill="#CCFFCC"/>
<text transform="translate(544.9000000000001 278.36) scale(0.1)" font-family="Liberation Sans" font-size="63" font-weight="bold" fill="#111" text-anchor="start" textLength="132" lengthAdjust="spacingAndGlyphs">XV04</text>
<text transform="translate(558.3 278.36) scale(0.1)" font-family="'Liberation Sans','Noto Sans CJK SC',sans-serif" font-size="60" font-weight="bold" fill="#111" text-anchor="start" textLength="120" lengthAdjust="spacingAndGlyphs">关位</text>
<text transform="translate(643 252.3) scale(0.1)" font-family="Liberation Mono" font-size="67" font-weight="bold" fill="#FFFFFE" text-anchor="start" textLength="420" lengthAdjust="spacing">TT01141001</text>
<rect x="643" y="255.3" width="37.5" height="8.6" fill="#f2f2f2" stroke="#8a9a9a" stroke-width="0.6"/>
<text transform="translate(662.25 262.1) scale(0.1)" font-family="Liberation Sans" font-size="70" font-weight="bold" fill="#111" text-anchor="middle" textLength="295" lengthAdjust="spacingAndGlyphs" stroke="#111" stroke-width="3" stroke-linejoin="round">???.?°C</text>
<text transform="translate(645 288) scale(0.1)" font-family="Liberation Mono" font-size="67" font-weight="bold" fill="#FFFFFE" text-anchor="start" textLength="420" lengthAdjust="spacing">WT01141001</text>
<rect x="645" y="291.8" width="37.5" height="8.4" fill="#f2f2f2" stroke="#8a9a9a" stroke-width="0.6"/>
<text transform="translate(664.25 298.4) scale(0.1)" font-family="Liberation Sans" font-size="70" font-weight="bold" fill="#111" text-anchor="middle" textLength="295" lengthAdjust="spacingAndGlyphs" stroke="#111" stroke-width="3" stroke-linejoin="round">???.?kg</text>
<line x1="635" y1="259.6" x2="643" y2="259.6" stroke="#4FA0A0" stroke-width="0.7"/>
<line x1="635" y1="296" x2="645" y2="296" stroke="#4FA0A0" stroke-width="0.7"/>
<rect x="641" y="304" width="45" height="10.5" fill="#CCFFCC"/>
<text transform="translate(647.9000000000001 311.36) scale(0.1)" font-family="Liberation Sans" font-size="63" font-weight="bold" fill="#111" text-anchor="start" textLength="132" lengthAdjust="spacingAndGlyphs">XV05</text>
<text transform="translate(661.3 311.36) scale(0.1)" font-family="'Liberation Sans','Noto Sans CJK SC',sans-serif" font-size="60" font-weight="bold" fill="#111" text-anchor="start" textLength="180" lengthAdjust="spacingAndGlyphs">关到位</text>
<text transform="translate(671.5 158) scale(0.1)" font-family="Liberation Mono" font-size="67" font-weight="bold" fill="#FFFFFE" text-anchor="start" textLength="420" lengthAdjust="spacing">PI00141001</text>
<rect x="672" y="160" width="40" height="8.2" fill="#f2f2f2" stroke="#8a9a9a" stroke-width="0.6"/>
<text transform="translate(692.5 166.39999999999998) scale(0.1)" font-family="Liberation Sans" font-size="70" font-weight="bold" fill="#111" text-anchor="middle" textLength="320" lengthAdjust="spacingAndGlyphs" stroke="#111" stroke-width="3" stroke-linejoin="round"></text>
<text transform="translate(683 166.5) scale(0.1)" font-family="Liberation Sans" font-size="70" font-weight="bold" fill="#111" text-anchor="start" textLength="200" lengthAdjust="spacingAndGlyphs" stroke="#111" stroke-width="3" stroke-linejoin="round">???.?</text>
<text transform="translate(671.5 177) scale(0.1)" font-family="Liberation Mono" font-size="67" font-weight="bold" fill="#FFFFFE" text-anchor="start" textLength="420" lengthAdjust="spacing">CT01141001</text>
<rect x="672" y="179.2" width="40" height="8.6" fill="#f2f2f2" stroke="#8a9a9a" stroke-width="0.6"/>
<text transform="translate(692.5 185.99999999999997) scale(0.1)" font-family="Liberation Sans" font-size="70" font-weight="bold" fill="#111" text-anchor="middle" textLength="320" lengthAdjust="spacingAndGlyphs" stroke="#111" stroke-width="3" stroke-linejoin="round"></text>
<text transform="translate(683 186.2) scale(0.1)" font-family="Liberation Sans" font-size="70" font-weight="bold" fill="#111" text-anchor="start" textLength="200" lengthAdjust="spacingAndGlyphs" stroke="#111" stroke-width="3" stroke-linejoin="round">???.?</text>
<rect x="628.8" y="222.2" width="45.8" height="11.6" fill="#D8FFFF"/>
<text transform="translate(631 230.16) scale(0.1)" font-family="'Liberation Sans','Noto Sans CJK SC',sans-serif" font-size="60" font-weight="bold" fill="#000" text-anchor="start" textLength="420" lengthAdjust="spacingAndGlyphs">冷液出口阀开关</text>
<rect x="251" y="422" width="306.5" height="15.2" fill="#D2D2D2"/>
<rect x="251" y="422" width="60.7" height="15.2" fill="#00C000"/>
<line x1="311.7" y1="422" x2="311.7" y2="437.2" stroke="#8c8c8c" stroke-width="0.9"/>
<line x1="372.3" y1="422" x2="372.3" y2="437.2" stroke="#8c8c8c" stroke-width="0.9"/>
<line x1="434.2" y1="422" x2="434.2" y2="437.2" stroke="#8c8c8c" stroke-width="0.9"/>
<line x1="496" y1="422" x2="496" y2="437.2" stroke="#8c8c8c" stroke-width="0.9"/>
<path d="M251,437.2V422H557.5" fill="none" stroke="#f4f4f4" stroke-width="0.8"/>
<path d="M251,437.2H557.5V422" fill="none" stroke="#7a7a7a" stroke-width="0.8"/>
<text transform="translate(275.5 431.932) scale(0.1)" font-family="'Liberation Sans','Noto Sans CJK SC',sans-serif" font-size="62" font-weight="bold" fill="#064" text-anchor="start" textLength="124" lengthAdjust="spacingAndGlyphs">说明</text>
<text transform="translate(336.8 431.932) scale(0.1)" font-family="'Liberation Sans','Noto Sans CJK SC',sans-serif" font-size="62" font-weight="bold" fill="#484848" text-anchor="start" textLength="124" lengthAdjust="spacingAndGlyphs">工艺</text>
<text transform="translate(389.59999999999997 431.932) scale(0.1)" font-family="Liberation Sans" font-size="65.1" font-weight="bold" fill="#3c3c3c" text-anchor="start" textLength="30" lengthAdjust="spacingAndGlyphs">T</text>
<text transform="translate(392.8 431.932) scale(0.1)" font-family="'Liberation Sans','Noto Sans CJK SC',sans-serif" font-size="62" font-weight="bold" fill="#3c3c3c" text-anchor="start" textLength="248" lengthAdjust="spacingAndGlyphs">参数报警</text>
<text transform="translate(459.3 431.932) scale(0.1)" font-family="'Liberation Sans','Noto Sans CJK SC',sans-serif" font-size="62" font-weight="bold" fill="#484848" text-anchor="start" textLength="124" lengthAdjust="spacingAndGlyphs">趋势</text>
<text transform="translate(520.5 431.932) scale(0.1)" font-family="'Liberation Sans','Noto Sans CJK SC',sans-serif" font-size="62" font-weight="bold" fill="#484848" text-anchor="start" textLength="124" lengthAdjust="spacingAndGlyphs">报警</text>
<text transform="translate(324.2 20.4) scale(0.1)" font-family="Liberation Serif" font-size="186" font-weight="bold" fill="#EEF6F6" text-anchor="middle" textLength="90" lengthAdjust="spacingAndGlyphs" stroke="#EEF6F6" stroke-width="4.5" stroke-linejoin="round">H</text>
<text transform="translate(333.3 20.4) scale(0.1)" font-family="Liberation Serif" font-size="186" font-weight="bold" fill="#EEF6F6" text-anchor="middle" textLength="56" lengthAdjust="spacingAndGlyphs" stroke="#EEF6F6" stroke-width="4.5" stroke-linejoin="round">1</text>
<text transform="translate(342.6 20.4) scale(0.1)" font-family="Liberation Serif" font-size="186" font-weight="bold" fill="#EEF6F6" text-anchor="middle" textLength="72" lengthAdjust="spacingAndGlyphs" stroke="#EEF6F6" stroke-width="4.5" stroke-linejoin="round">3</text>
<text transform="translate(351.4 20.4) scale(0.1)" font-family="Liberation Serif" font-size="186" font-weight="bold" fill="#EEF6F6" text-anchor="middle" textLength="56" lengthAdjust="spacingAndGlyphs" stroke="#EEF6F6" stroke-width="4.5" stroke-linejoin="round">1</text>
<text transform="translate(361.0 20.4) scale(0.1)" font-family="Liberation Serif" font-size="186" font-weight="bold" fill="#EEF6F6" text-anchor="middle" textLength="76" lengthAdjust="spacingAndGlyphs" stroke="#EEF6F6" stroke-width="4.5" stroke-linejoin="round">-</text>
<text transform="translate(370.9 20.4) scale(0.1)" font-family="Liberation Serif" font-size="186" font-weight="bold" fill="#EEF6F6" text-anchor="middle" textLength="56" lengthAdjust="spacingAndGlyphs" stroke="#EEF6F6" stroke-width="4.5" stroke-linejoin="round">1</text>
<text transform="translate(377.4 19.0) scale(0.1)" font-family="'Liberation Serif','Noto Serif CJK SC',serif" font-size="137" font-weight="bold" fill="#EEF6F6" text-anchor="start" textLength="331.6" lengthAdjust="spacingAndGlyphs">溶解</text>
</g>
</svg>
</body></html>
